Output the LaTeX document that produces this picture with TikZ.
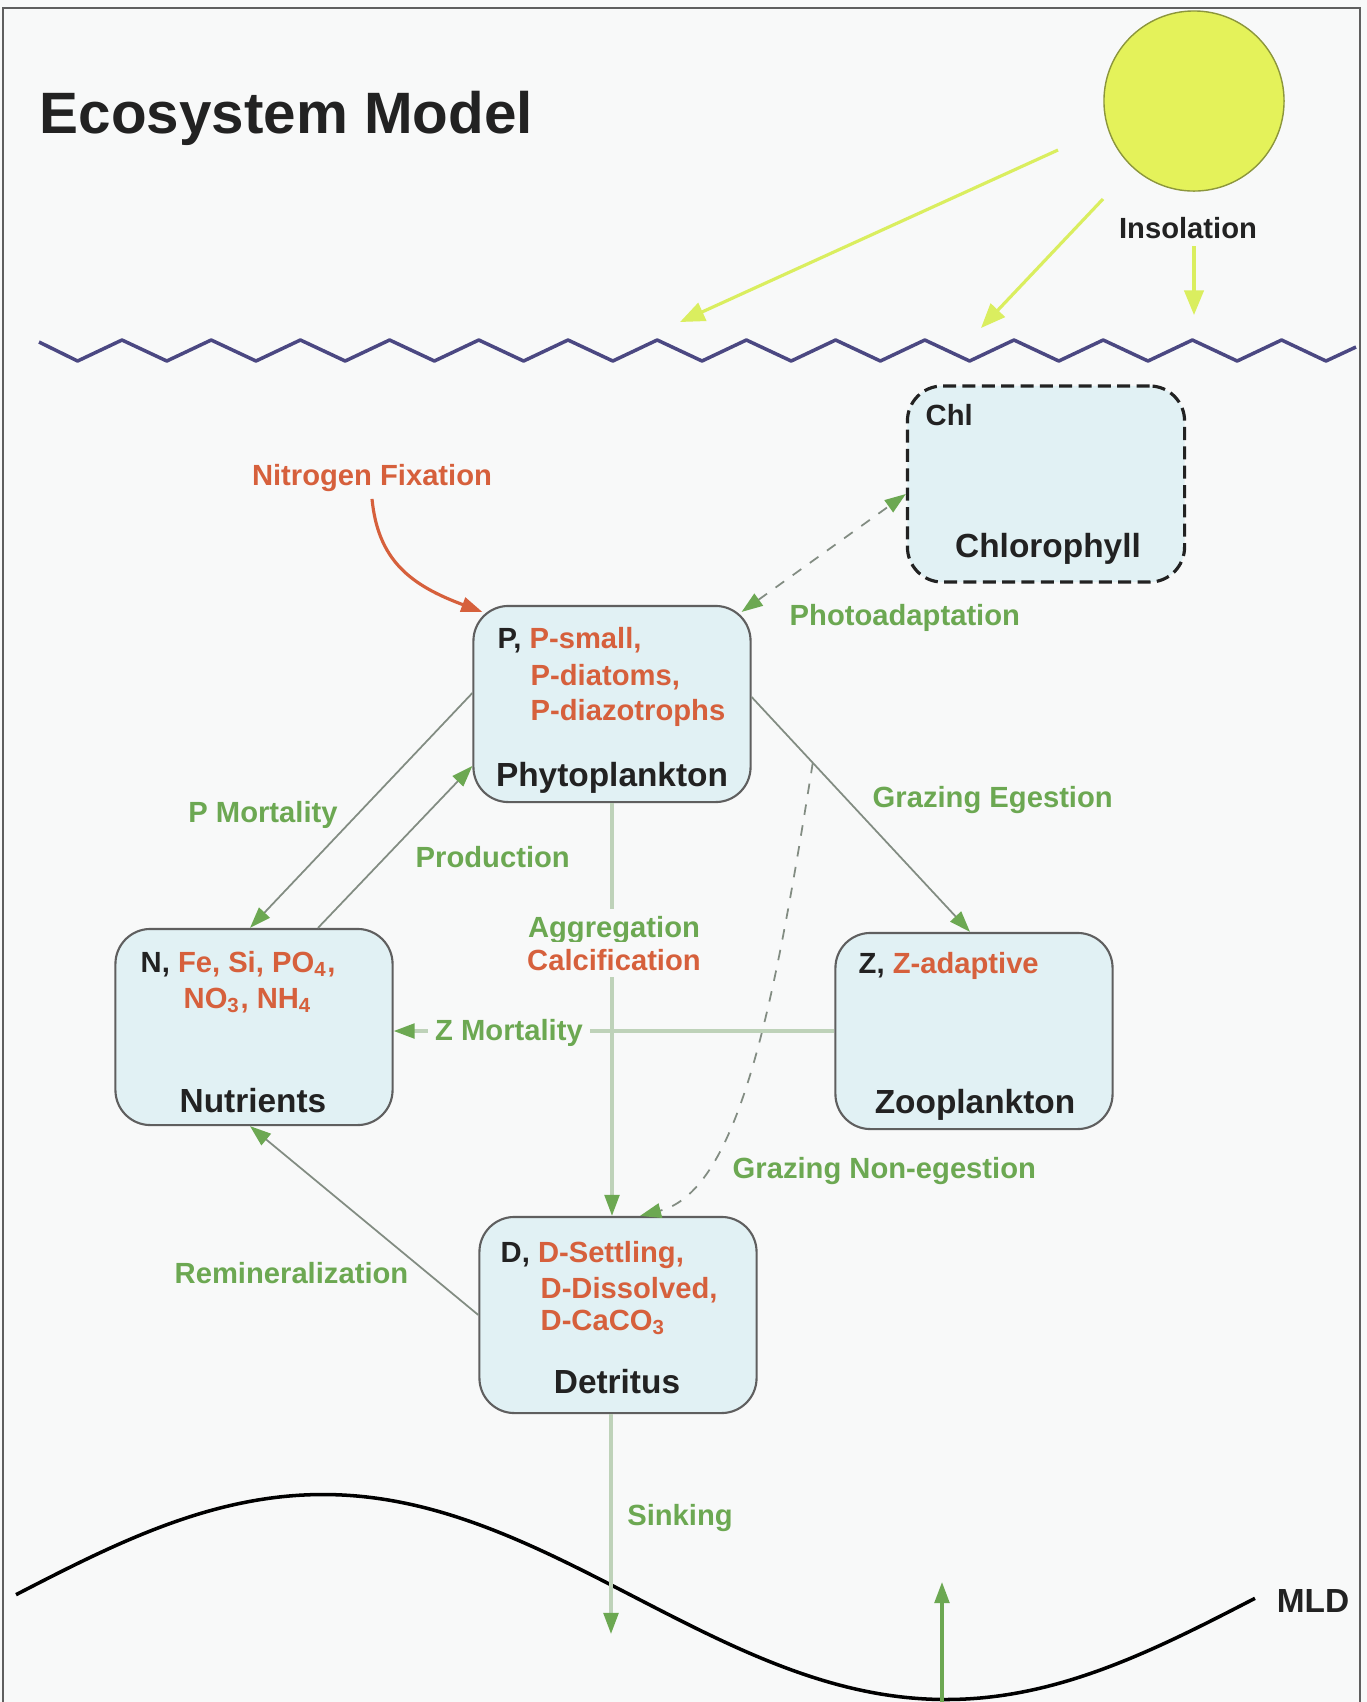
\documentclass[tikz,border=0pt]{standalone}
\usepackage{fontspec}
\setmainfont{Liberation Sans}
\usetikzlibrary{calc}
\usetikzlibrary{arrows.meta}

\definecolor{paper}{RGB}{248,249,249}
\definecolor{ink}{RGB}{34,34,34}
\definecolor{flowgreen}{RGB}{108,168,82}
\definecolor{tracer}{RGB}{214,96,60}
\definecolor{boxfill}{RGB}{225,241,244}
\definecolor{boxline}{RGB}{95,95,95}
\definecolor{linegray}{RGB}{130,140,130}
\definecolor{palegreen}{RGB}{190,210,185}
\definecolor{rayyellow}{RGB}{218,238,95}
\definecolor{sunfill}{RGB}{228,242,90}
\definecolor{sunline}{RGB}{140,150,60}
\definecolor{wavecol}{RGB}{75,72,130}

\tikzset{
  greentip/.tip={Triangle[color=flowgreen,length=6pt,width=4.2pt]},
  raytip/.tip={Triangle[color=rayyellow,length=7pt,width=5.5pt]},
  fixtip/.tip={Triangle[color=tracer,length=6pt,width=4.2pt]},
  compartment/.style={draw=boxline,fill=boxfill,line width=0.6pt,rounded corners=0.35cm,
    minimum width=2.77cm,minimum height=1.96cm,inner sep=0pt},
  boxtext/.style={text=ink,font=\bfseries\fontsize{8.3}{10}\selectfont,inner sep=0pt,anchor=base west},
  tracertext/.style={boxtext,text=tracer},
  boxname/.style={text=ink,font=\bfseries\fontsize{9.5}{11}\selectfont,inner sep=0pt,anchor=base},
  flowlabel/.style={text=flowgreen,font=\bfseries\fontsize{8.3}{10}\selectfont,inner sep=2pt,anchor=base},
  darklabel/.style={flowlabel,text=ink},
  flow/.style={draw=linegray,line width=0.5pt,-greentip},
  paleflow/.style={draw=palegreen,line width=0.9pt,-greentip},
  ray/.style={draw=rayyellow,line width=0.9pt,-raytip}
}

\begin{document}
\begin{tikzpicture}[x=0.01cm,y=-0.01cm]

\useasboundingbox (0,0) rectangle (1367,1702);
\fill[paper] (0,0) rectangle (1367,1702);
\draw[boxline,line width=0.5pt] (3,1702) -- (3,8) -- (1360,8) -- (1360,1702);

\node[text=ink,font=\bfseries\fontsize{16.6}{20}\selectfont,inner sep=0pt,anchor=base west] (title) at (39,133) {Ecosystem Model};

\node[circle,draw=sunline,fill=sunfill,line width=0.4pt,minimum size=1.8cm] (sun) at (1194,101) {};
\node[darklabel] (insol) at (1188,238) {Insolation};

\coordinate (ray1) at (680,322);
\coordinate (ray2) at (981,328);
\coordinate (ray3) at (1194,315);

\draw[ray] ($(sun)+(-136,49)$) -- (ray1);
\draw[ray] ($(sun)+(-91,98)$) -- (ray2);
\draw[ray] (insol.south -| ray3) -- (ray3);

\draw[wavecol,line width=1pt,line join=round] (39,342)
  \foreach \k in {0,...,13} { -- ({77.6+89.2*\k},361) -- ({122+89.2*\k},340) }
  -- (1326,361) -- (1356,347);

\draw[black,line width=1pt] plot[domain=16:1255,samples=150,smooth] (\x,{1597-102.5*cos(((\x-323)/623)*180)});
\node[darklabel,font=\bfseries\fontsize{9.5}{11}\selectfont] (mldlabel) at (1313,1612) {MLD};

\node[compartment,draw=ink,line width=0.9pt,dash pattern=on 3.7pt off 1.8pt] (chl) at (1046,484) {};
\node[compartment] (phyto) at (612,704) {};
\node[compartment] (nutrients) at (254,1027) {};
\node[compartment] (zoo) at (974,1031) {};
\node[compartment] (detritus) at (618,1315) {};

\node[boxtext] (chlsym) at (925,425) {Chl};
\node[boxname] (chlname) at (1048,557) {Chlorophyll};

\node[boxtext] (phytoA) at (497,648) {P, \textcolor{tracer}{P-small,}};
\node[tracertext] (phytoB) at (530,685) {P-diatoms,};
\node[tracertext] (phytoC) at (530,720) {P-diazotrophs};
\node[boxname] (phytoname) at (612,786) {Phytoplankton};

\node[boxtext] (nutA) at (140,972) {N, \textcolor{tracer}{Fe, Si, PO\textsubscript{4},}};
\node[tracertext] (nutB) at (183,1008) {NO\textsubscript{3}, NH\textsubscript{4}};
\node[boxname] (nutname) at (253,1112) {Nutrients};

\node[boxtext] (zooA) at (858,973) {Z, \textcolor{tracer}{Z-adaptive}};
\node[boxname] (zooname) at (975,1113) {Zooplankton};

\node[boxtext] (detA) at (500,1262) {D, \textcolor{tracer}{D-Settling,}};
\node[tracertext] (detB) at (540,1298) {D-Dissolved,};
\node[tracertext] (detC) at (540,1330) {D-CaCO\textsubscript{3}};
\node[boxname] (detname) at (617,1393) {Detritus};

\node[flowlabel,text=tracer] (nfixlabel) at (372,485) {Nitrogen Fixation};

\coordinate (egestA) at ($(phyto.east)+(0,-7)$);
\coordinate (egestB) at ($(zoo.north)+(-4,0)$);
\coordinate (split) at ($(egestA)!0.28!(egestB)$);
\coordinate (sinkend) at (611,1634);
\coordinate (upfoot) at (942,1702);
\coordinate (uptip) at (942,1582);

\draw[draw=tracer,line width=0.9pt,-fixtip] (nfixlabel.south) .. controls (378,560) and (410,585) .. ($(phyto.north west)+(10,7)$);
\draw[flow,dashed,greentip-greentip] ($(phyto.north east)+(-10,7)$) -- ($(chl.west)+(0,10)$);
\draw[flow] ($(phyto.west)+(0,-11)$) -- ($(nutrients.north)+(-4,0)$);
\draw[flow] ($(nutrients.north)+(64,0)$) -- ($(phyto.west)+(0,62)$);
\draw[flow] (egestA) -- (egestB);
\draw[flow,dashed] (split) .. controls (775,1000) and (740,1190) .. ($(detritus.north)+(22,0)$);
\draw[paleflow] (phyto.south) -- (phyto.south |- detritus.north);
\draw[paleflow] (zoo.west) -- (zoo.west -| nutrients.east);
\draw[flow] (detritus.west) -- ($(nutrients.south)+(-4,0)$);
\draw[paleflow] (detritus.south -| sinkend) -- (sinkend);
\draw[draw=flowgreen,line width=0.9pt,-greentip] (upfoot) -- (uptip);

\node[flowlabel,anchor=base west] (photolabel) at (782,625) {Photoadaptation};
\node[flowlabel] (pmortlabel) at (263,822) {P Mortality};
\node[flowlabel,anchor=base west] (prodlabel) at (408,867) {Production};
\node[flowlabel,anchor=base west] (egestlabel) at (865,807) {Grazing Egestion};
\node[flowlabel,fill=paper] (agglabel) at (614,937) {Aggregation};
\node[flowlabel,fill=paper,text=tracer] (calclabel) at (614,970) {Calcification};
\node[flowlabel,fill=paper] (zmortlabel) at (509,1040) {Z Mortality};
\node[flowlabel,anchor=base west] (nonegestlabel) at (725,1178) {Grazing Non-egestion};
\node[flowlabel,anchor=base west] (reminlabel) at (167,1283) {Remineralization};
\node[flowlabel] (sinklabel) at (680,1525) {Sinking};

\end{tikzpicture}
\end{document}
